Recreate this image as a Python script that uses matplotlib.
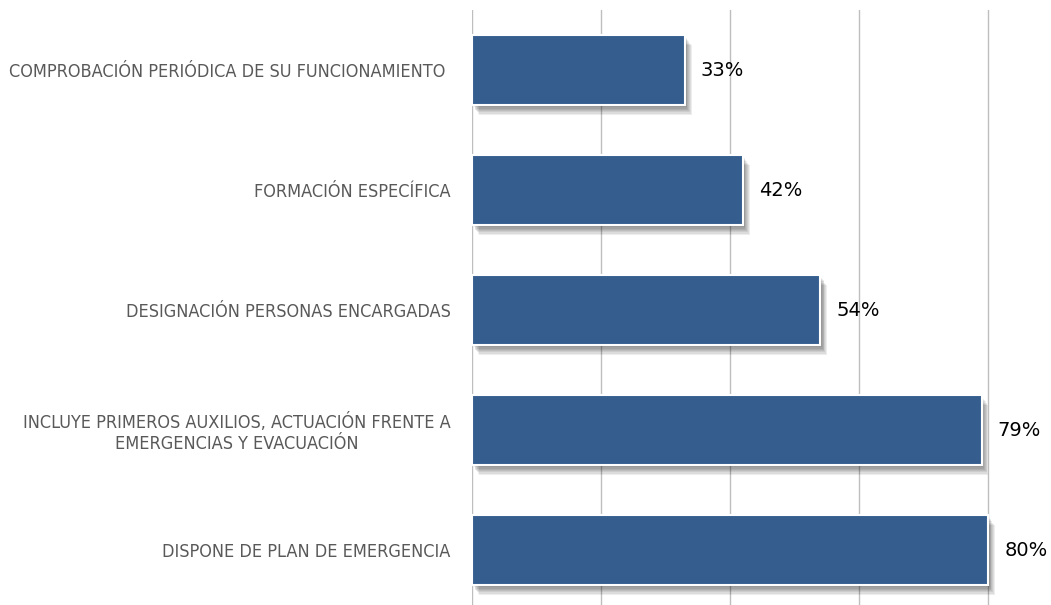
import matplotlib
matplotlib.use('Agg')
import matplotlib.pyplot as plt
import matplotlib.patheffects as pe

categorias = ['COMPROBACIÓN PERIÓDICA DE SU FUNCIONAMIENTO ',
              'FORMACIÓN ESPECÍFICA',
              'DESIGNACIÓN PERSONAS ENCARGADAS',
              'INCLUYE PRIMEROS AUXILIOS, ACTUACIÓN FRENTE A\nEMERGENCIAS Y EVACUACIÓN',
              'DISPONE DE PLAN DE EMERGENCIA']
valores = [33, 42, 54, 79, 80]
etiquetas = ['33%', '42%', '54%', '79%', '80%']

fig = plt.figure(figsize=(10.51, 6.05), dpi=100)
ax = fig.add_axes([472/1051, -5/605, 516*82/80/1051, 600/605])

y = list(range(len(categorias)))
bars = ax.barh(y, valores, height=0.58, color='#355E8E', edgecolor='white',
               linewidth=1.5, zorder=3)
# sombra difusa
sombra = []
for k in range(1, 9):
    sombra.append(pe.SimplePatchShadow(offset=(k * 0.6, -k * 0.9),
                                       shadow_rgbFace='black', alpha=0.07))
sombra.append(pe.Normal())
for b in bars:
    b.set_path_effects(sombra)

for yi, v, t in zip(y, valores, etiquetas):
    ax.text(v + 2.5, yi, t, va='center', ha='left', fontsize=14,
            family='DejaVu Sans', color='black')

ax.set_xlim(0, 82)
ax.set_ylim(4.5, -0.5)
ax.set_xticks([0, 20, 40, 60, 80])
ax.xaxis.grid(True, color='#BEBEBE', linewidth=1, zorder=0)
ax.set_axisbelow(True)
ax.tick_params(axis='x', bottom=False, labelbottom=False)
ax.tick_params(axis='y', left=False, pad=12)
ax.set_yticks(y)
ax.set_yticklabels(categorias, fontsize=13, color='#595959', family='DejaVu Sans',
                   fontstretch='condensed', ha='right', multialignment='center')
for s in ax.spines.values():
    s.set_visible(False)

fig.savefig('out.png', dpi=100)
